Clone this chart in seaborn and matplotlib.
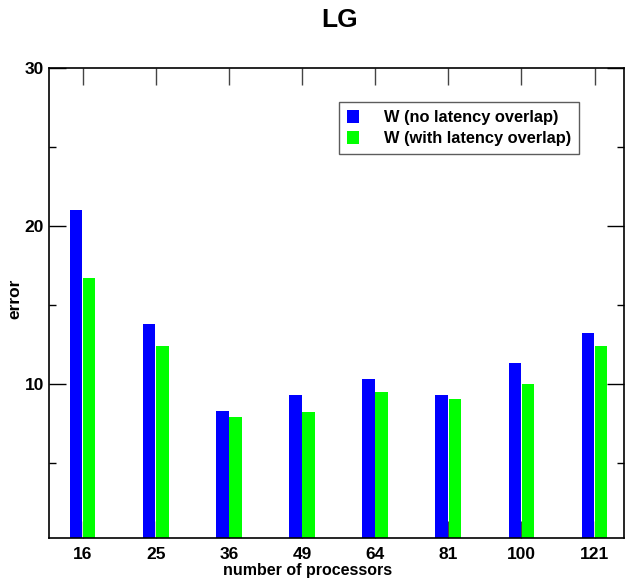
import matplotlib
matplotlib.use("Agg")
import matplotlib.pyplot as plt
import seaborn as sns
import pandas as pd
from matplotlib.ticker import FixedLocator

processors = ["16", "25", "36", "49", "64", "81", "100", "121"]
no_overlap = [21.0, 13.8, 8.3, 9.3, 10.3, 9.3, 11.3, 13.2]
with_overlap = [16.7, 12.4, 7.9, 8.2, 9.5, 9.0, 10.0, 12.4]
series_names = ["W (no latency overlap)", "W (with latency overlap)"]
colors = ["#0000ff", "#00ff00"]

df = pd.DataFrame({
    "processors": processors * 2,
    "error": no_overlap + with_overlap,
    "series": [series_names[0]] * len(processors) + [series_names[1]] * len(processors),
})

sns.set_style("white")
plt.rcParams["font.family"] = ["Liberation Sans", "DejaVu Sans"]
plt.rcParams["font.weight"] = "bold"
plt.rcParams["text.color"] = "black"
plt.rcParams["axes.labelcolor"] = "black"
plt.rcParams["xtick.color"] = "black"
plt.rcParams["ytick.color"] = "black"

fig = plt.figure(figsize=(6.25, 5.84), dpi=100)
ax = fig.add_axes([0.079, 0.0783, 0.919, 0.8047])

sns.barplot(data=df, x="processors", y="error", hue="series", order=processors,
            hue_order=series_names, palette=colors, width=0.36, gap=0.05,
            saturation=1, linewidth=0, ax=ax)

ax.set_xlim(-0.455, 7.4)
ax.set_ylim(0.2, 30)
ax.yaxis.set_major_locator(FixedLocator([10, 20, 30]))
ax.yaxis.set_minor_locator(FixedLocator([5, 15, 25]))
ax.tick_params(axis="y", which="major", direction="in", length=12, width=1,
               left=True, right=True, labelsize=12.5, pad=4, colors="black")
ax.tick_params(axis="y", which="minor", direction="in", length=5, width=1,
               left=True, right=True, colors="black")
ax.tick_params(axis="x", which="major", direction="in", length=12, width=1,
               top=True, bottom=True, labelsize=12.5, pad=6, color="#444444",
               labelcolor="black")
for lab in ax.get_xticklabels() + ax.get_yticklabels():
    lab.set_fontweight("bold")

for side in ["left", "bottom", "top", "right"]:
    ax.spines[side].set_visible(True)
    ax.spines[side].set_color("black")
    ax.spines[side].set_linewidth(1.2)

ax.set_xlabel("number of processors", fontsize=11.5, fontweight="bold")
ax.xaxis.set_label_coords(0.449, -0.053)
ax.set_ylabel("error", fontsize=12.5, fontweight="bold")
ax.yaxis.set_label_coords(-0.0475, 0.51)
fig.suptitle("LG", fontsize=19, fontweight="bold", x=0.543, y=0.986)

leg = ax.legend(loc="upper left", bbox_to_anchor=(0.504, 0.929), borderaxespad=0,
                fontsize=11.8, frameon=True, fancybox=False, handlelength=0.75,
                handleheight=0.85, handletextpad=1.5, borderpad=0.5, labelspacing=0.35)
leg.get_frame().set_edgecolor("#333333")
leg.get_frame().set_linewidth(1.0)
for t in leg.get_texts():
    t.set_fontweight("bold")

fig.savefig("out.png", dpi=100)
